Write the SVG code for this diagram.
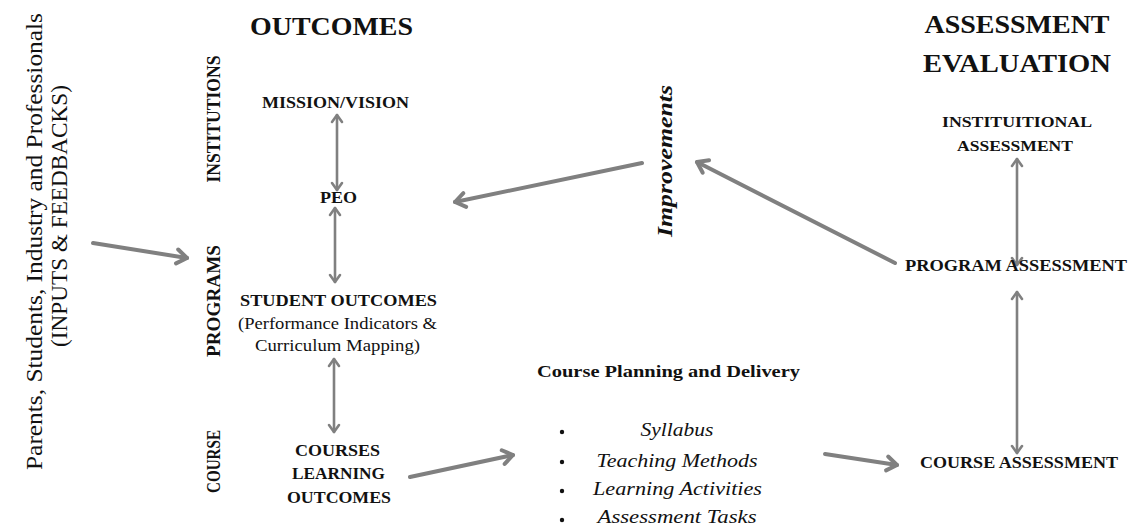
<svg xmlns="http://www.w3.org/2000/svg" width="1130" height="527" viewBox="0 0 1130 527">
<style>
text{font-family:"Liberation Serif","Times New Roman",serif;fill:#111;}
.b{font-weight:bold;}
.i{font-style:italic;}
.c{text-anchor:middle;}
.title{font-size:26px;font-weight:bold;}
.node{font-size:16px;}
.side{font-size:18px;font-weight:bold;}
.item{font-size:18px;font-style:italic;}
.thick{stroke:#808080;stroke-width:4;fill:none;stroke-linecap:round;}
.thin{stroke:#808080;stroke-width:2.6;fill:none;stroke-linecap:round;}
.dot{fill:#111;}
</style>
<defs>
<marker id="ah" markerUnits="userSpaceOnUse" overflow="visible" orient="auto" refX="0" refY="0" markerWidth="20" markerHeight="20">
<path d="M-10,-7 L0,0 L-10,7" fill="none" stroke="#808080" stroke-width="4" stroke-linecap="round" stroke-linejoin="round"/>
</marker>
<marker id="ah2" markerUnits="userSpaceOnUse" overflow="visible" orient="auto-start-reverse" refX="0" refY="0" markerWidth="20" markerHeight="20">
<path d="M-7,-5 L0,0 L-7,5" fill="none" stroke="#808080" stroke-width="2.6" stroke-linecap="round" stroke-linejoin="round"/>
</marker>
</defs>
<rect width="1130" height="527" fill="#ffffff"/>

<g id="connectors">
<line class="thick" x1="93" y1="243" x2="187" y2="258" marker-end="url(#ah)"/>
<line class="thick" x1="642" y1="163" x2="455" y2="202" marker-end="url(#ah)"/>
<line class="thick" x1="895" y1="263" x2="697" y2="162" marker-end="url(#ah)"/>
<line class="thick" x1="410" y1="477" x2="513" y2="455" marker-end="url(#ah)"/>
<line class="thick" x1="825" y1="454" x2="897" y2="465" marker-end="url(#ah)"/>
<line class="thin" x1="337" y1="115" x2="337" y2="190" marker-start="url(#ah2)" marker-end="url(#ah2)"/>
<line class="thin" x1="335" y1="208" x2="335" y2="282" marker-start="url(#ah2)" marker-end="url(#ah2)"/>
<line class="thin" x1="334" y1="359" x2="334" y2="432" marker-start="url(#ah2)" marker-end="url(#ah2)"/>
<line class="thin" x1="1017" y1="159" x2="1017" y2="265" marker-start="url(#ah2)" marker-end="url(#ah2)"/>
<line class="thin" x1="1017" y1="292" x2="1017" y2="453" marker-start="url(#ah2)" marker-end="url(#ah2)"/>
</g>

<g id="inputs">
<text transform="translate(42,241.5) rotate(-90)" class="c" font-size="23" textLength="457" lengthAdjust="spacingAndGlyphs">Parents, Students, Industry and Professionals</text>
<text transform="translate(67,216) rotate(-90)" class="c" font-size="23" textLength="262" lengthAdjust="spacingAndGlyphs">(INPUTS &amp; FEEDBACKS)</text>
</g>

<g id="levels">
<text transform="translate(220,119) rotate(-90)" class="c side" textLength="127" lengthAdjust="spacingAndGlyphs">INSTITUTIONS</text>
<text transform="translate(220,301) rotate(-90)" class="c side" textLength="112" lengthAdjust="spacingAndGlyphs">PROGRAMS</text>
<text transform="translate(220,461.5) rotate(-90)" class="c side" textLength="63" lengthAdjust="spacingAndGlyphs">COURSE</text>
</g>

<g id="outcomes-title">
<text x="331.5" y="35" class="c title" textLength="163" lengthAdjust="spacingAndGlyphs">OUTCOMES</text>
</g>

<g id="mission">
<text x="335.5" y="108" class="c node b" textLength="147" lengthAdjust="spacingAndGlyphs">MISSION/VISION</text>
</g>
<g id="peo">
<text x="338.5" y="203" class="c node b" textLength="37" lengthAdjust="spacingAndGlyphs">PEO</text>
</g>
<g id="student-outcomes">
<text x="338.5" y="306" class="c node b" textLength="197" lengthAdjust="spacingAndGlyphs">STUDENT OUTCOMES</text>
<text x="337.5" y="329" class="c node" textLength="199" lengthAdjust="spacingAndGlyphs">(Performance Indicators &amp;</text>
<text x="337.5" y="351" class="c node" textLength="165" lengthAdjust="spacingAndGlyphs">Curriculum Mapping)</text>
</g>
<g id="course-lo">
<text x="337.5" y="456" class="c node b" textLength="85" lengthAdjust="spacingAndGlyphs">COURSES</text>
<text x="338.5" y="479" class="c node b" textLength="93" lengthAdjust="spacingAndGlyphs">LEARNING</text>
<text x="339" y="503" class="c node b" textLength="104" lengthAdjust="spacingAndGlyphs">OUTCOMES</text>
</g>

<g id="improvements">
<text transform="translate(672,161) rotate(-90)" class="c b i" font-size="21" textLength="152" lengthAdjust="spacingAndGlyphs">Improvements</text>
</g>

<g id="course-planning">
<text x="668.5" y="377" class="c b" font-size="17" textLength="263" lengthAdjust="spacingAndGlyphs">Course Planning and Delivery</text>
<circle class="dot" cx="562" cy="432" r="2.2"/>
<circle class="dot" cx="562" cy="462" r="2.2"/>
<circle class="dot" cx="562" cy="491" r="2.2"/>
<circle class="dot" cx="562" cy="520" r="2.2"/>
<text x="677" y="436" class="c item" textLength="73" lengthAdjust="spacingAndGlyphs">Syllabus</text>
<text x="677" y="467" class="c item" textLength="161" lengthAdjust="spacingAndGlyphs">Teaching Methods</text>
<text x="677.5" y="495" class="c item" textLength="169" lengthAdjust="spacingAndGlyphs">Learning Activities</text>
<text x="677" y="523" class="c item" textLength="159" lengthAdjust="spacingAndGlyphs">Assessment Tasks</text>
</g>

<g id="assessment-title">
<text x="1017" y="33" class="c title" textLength="185" lengthAdjust="spacingAndGlyphs">ASSESSMENT</text>
<text x="1017" y="72" class="c title" textLength="188" lengthAdjust="spacingAndGlyphs">EVALUATION</text>
</g>

<g id="institutional-assessment">
<text x="1017" y="127" class="c b" font-size="15" textLength="150" lengthAdjust="spacingAndGlyphs">INSTITUITIONAL</text>
<text x="1015" y="151" class="c b" font-size="15" textLength="116" lengthAdjust="spacingAndGlyphs">ASSESSMENT</text>
</g>
<g id="program-assessment">
<text x="1016" y="271" class="c node b" textLength="222" lengthAdjust="spacingAndGlyphs">PROGRAM ASSESSMENT</text>
</g>
<g id="course-assessment">
<text x="1019" y="468" class="c node b" textLength="198" lengthAdjust="spacingAndGlyphs">COURSE ASSESSMENT</text>
</g>
</svg>
